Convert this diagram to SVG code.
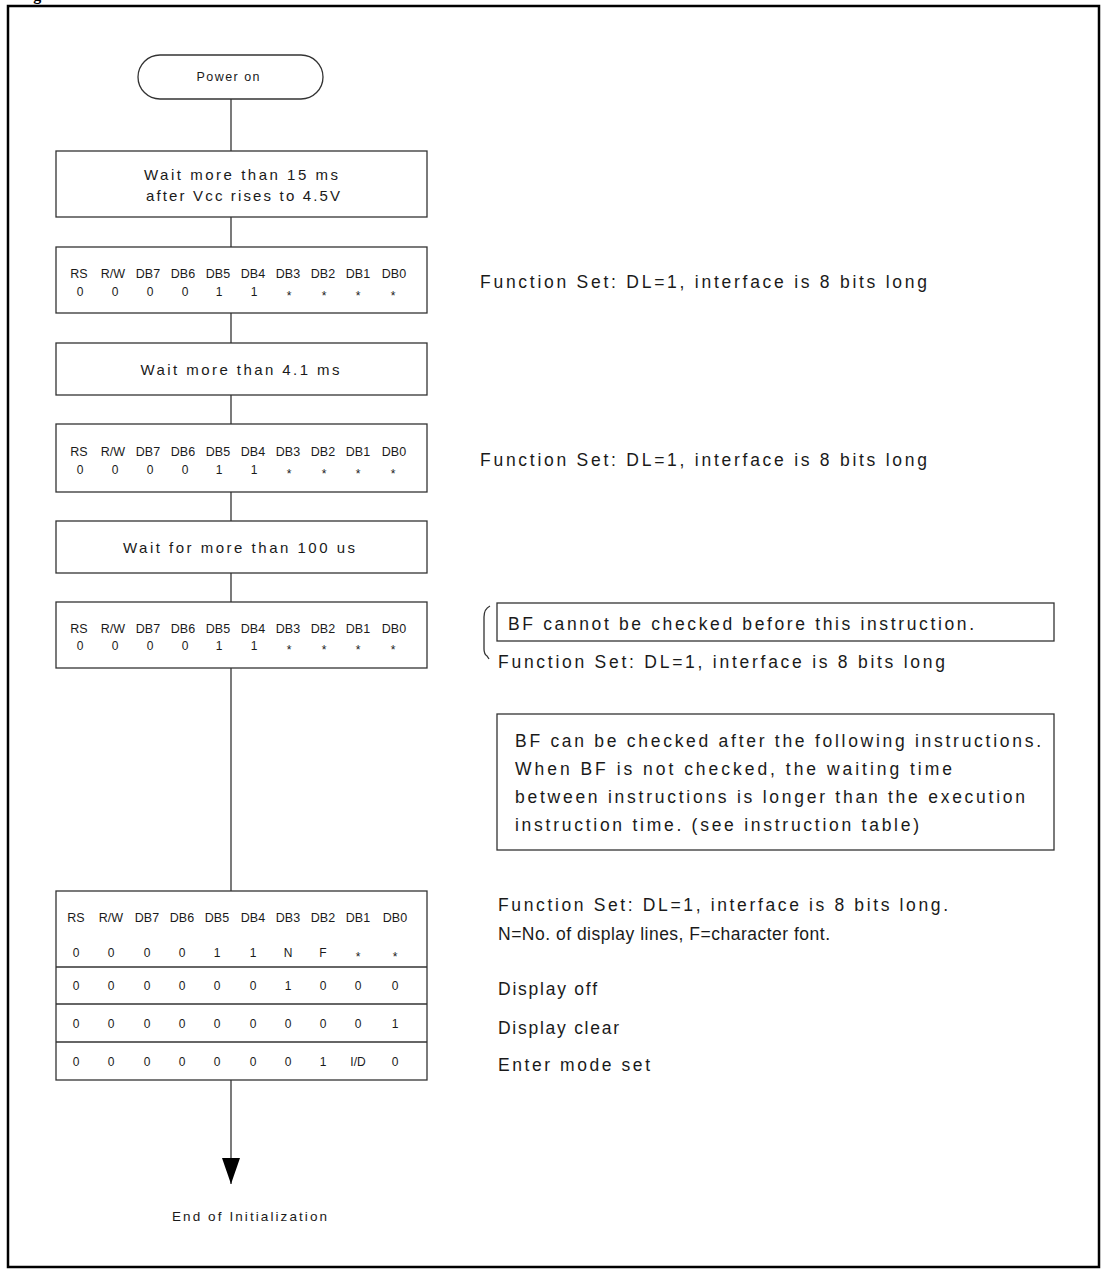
<svg xmlns="http://www.w3.org/2000/svg" width="1101" height="1269" viewBox="0 0 1101 1269">
<style>
.t{font-family:"Liberation Sans",Arial,sans-serif;fill:#1a1a1a}
.box{fill:#fff;stroke:#333;stroke-width:1.3}
.c{stroke:#333;stroke-width:1.3;fill:none}
.big{font-size:17.5px}
.mid{font-size:15px}
.m{text-anchor:middle}
.r{font-size:12.5px;text-anchor:middle}
.v{font-size:12px;text-anchor:middle}
</style>
<defs>
<marker id="arr" markerUnits="userSpaceOnUse" viewBox="0 -10 28 20" refX="26" refY="0" markerWidth="28" markerHeight="20" orient="auto">
<path d="M0,-9 L26,0 L0,9 Z" fill="#000"/>
</marker>
</defs>
<rect x="0" y="0" width="1101" height="1269" fill="#fff"/>
<text x="19" y="0" font-family="Liberation Serif,serif" font-weight="bold" font-size="16" fill="#000">Figure</text>
<rect x="8" y="6" width="1091" height="1261" fill="none" stroke="#000" stroke-width="2.5"/>

<g id="connectors">
<line class="c" x1="231" y1="99" x2="231" y2="151"/>
<line class="c" x1="231" y1="217" x2="231" y2="247"/>
<line class="c" x1="231" y1="313" x2="231" y2="343"/>
<line class="c" x1="231" y1="395" x2="231" y2="424"/>
<line class="c" x1="231" y1="492" x2="231" y2="521"/>
<line class="c" x1="231" y1="573" x2="231" y2="602"/>
<line class="c" x1="231" y1="668" x2="231" y2="891"/>
<line class="c" x1="231" y1="1080" x2="231" y2="1184" marker-end="url(#arr)"/>
</g>

<g id="power-on">
<rect class="box" x="138" y="55" width="185" height="44" rx="22" ry="22"/>
<text class="t m" x="228" y="81" font-size="12.5" textLength="63" lengthAdjust="spacing">Power on</text>
</g>

<g id="wait-15ms">
<rect class="box" x="56" y="151" width="371" height="66"/>
<text class="t mid m" x="241" y="180" textLength="194" lengthAdjust="spacing">Wait more than 15 ms</text>
<text class="t mid m" x="243" y="201" textLength="194" lengthAdjust="spacing">after Vcc rises to 4.5V</text>
</g>

<g id="func-set-1">
<rect class="box" x="56" y="247" width="371" height="66"/>
<text class="t r" x="79" y="278">RS</text><text class="t r" x="113" y="278">R/W</text><text class="t r" x="148" y="278">DB7</text><text class="t r" x="183" y="278">DB6</text><text class="t r" x="218" y="278">DB5</text><text class="t r" x="253" y="278">DB4</text><text class="t r" x="288" y="278">DB3</text><text class="t r" x="323" y="278">DB2</text><text class="t r" x="358" y="278">DB1</text><text class="t r" x="394" y="278">DB0</text>
<text class="t v" x="80" y="296">0</text><text class="t v" x="115" y="296">0</text><text class="t v" x="150" y="296">0</text><text class="t v" x="185" y="296">0</text><text class="t v" x="219" y="296">1</text><text class="t v" x="254" y="296">1</text><text class="t v" x="289" y="300">*</text><text class="t v" x="324" y="300">*</text><text class="t v" x="358" y="300">*</text><text class="t v" x="393" y="300">*</text>
</g>
<text class="t big" x="480" y="288" textLength="447" lengthAdjust="spacing">Function Set: DL=1, interface is 8 bits long</text>

<g id="wait-4ms">
<rect class="box" x="56" y="343" width="371" height="52"/>
<text class="t mid m" x="240" y="375" textLength="199" lengthAdjust="spacing">Wait more than 4.1 ms</text>
</g>

<g id="func-set-2">
<rect class="box" x="56" y="424" width="371" height="68"/>
<text class="t r" x="79" y="456">RS</text><text class="t r" x="113" y="456">R/W</text><text class="t r" x="148" y="456">DB7</text><text class="t r" x="183" y="456">DB6</text><text class="t r" x="218" y="456">DB5</text><text class="t r" x="253" y="456">DB4</text><text class="t r" x="288" y="456">DB3</text><text class="t r" x="323" y="456">DB2</text><text class="t r" x="358" y="456">DB1</text><text class="t r" x="394" y="456">DB0</text>
<text class="t v" x="80" y="474">0</text><text class="t v" x="115" y="474">0</text><text class="t v" x="150" y="474">0</text><text class="t v" x="185" y="474">0</text><text class="t v" x="219" y="474">1</text><text class="t v" x="254" y="474">1</text><text class="t v" x="289" y="478">*</text><text class="t v" x="324" y="478">*</text><text class="t v" x="358" y="478">*</text><text class="t v" x="393" y="478">*</text>
</g>
<text class="t big" x="480" y="466" textLength="447" lengthAdjust="spacing">Function Set: DL=1, interface is 8 bits long</text>

<g id="wait-100us">
<rect class="box" x="56" y="521" width="371" height="52"/>
<text class="t mid m" x="239" y="553" textLength="232" lengthAdjust="spacing">Wait for more than 100 us</text>
</g>

<g id="func-set-3">
<rect class="box" x="56" y="602" width="371" height="66"/>
<text class="t r" x="79" y="633">RS</text><text class="t r" x="113" y="633">R/W</text><text class="t r" x="148" y="633">DB7</text><text class="t r" x="183" y="633">DB6</text><text class="t r" x="218" y="633">DB5</text><text class="t r" x="253" y="633">DB4</text><text class="t r" x="288" y="633">DB3</text><text class="t r" x="323" y="633">DB2</text><text class="t r" x="358" y="633">DB1</text><text class="t r" x="394" y="633">DB0</text>
<text class="t v" x="80" y="650">0</text><text class="t v" x="115" y="650">0</text><text class="t v" x="150" y="650">0</text><text class="t v" x="185" y="650">0</text><text class="t v" x="219" y="650">1</text><text class="t v" x="254" y="650">1</text><text class="t v" x="289" y="654">*</text><text class="t v" x="324" y="654">*</text><text class="t v" x="358" y="654">*</text><text class="t v" x="393" y="654">*</text>
</g>

<g id="bf-note-1">
<path class="c" d="M490,606 Q484,609 484,617 L484,649 Q484,654 487,656 L489,659" stroke-width="1"/>
<rect class="box" x="497" y="603" width="557" height="38"/>
<text class="t big" x="508" y="630" textLength="466" lengthAdjust="spacing">BF cannot be checked before this instruction.</text>
<text class="t big" x="498" y="668" textLength="447" lengthAdjust="spacing">Function Set: DL=1, interface is 8 bits long</text>
</g>

<g id="bf-note-2">
<rect class="box" x="497" y="714" width="557" height="136"/>
<text class="t big" x="515" y="747" textLength="526" lengthAdjust="spacing">BF can be checked after the following instructions.</text>
<text class="t big" x="515" y="775" textLength="437" lengthAdjust="spacing">When BF is not checked, the waiting time</text>
<text class="t big" x="515" y="803" textLength="510" lengthAdjust="spacing">between instructions is longer than the execution</text>
<text class="t big" x="515" y="831" textLength="404" lengthAdjust="spacing">instruction time. (see instruction table)</text>
</g>

<g id="init-table">
<rect class="box" x="56" y="891" width="371" height="189"/>
<line class="c" x1="56" y1="967" x2="427" y2="967"/>
<line class="c" x1="56" y1="1004" x2="427" y2="1004"/>
<line class="c" x1="56" y1="1042" x2="427" y2="1042"/>
<text class="t r" x="76" y="922">RS</text><text class="t r" x="111" y="922">R/W</text><text class="t r" x="147" y="922">DB7</text><text class="t r" x="182" y="922">DB6</text><text class="t r" x="217" y="922">DB5</text><text class="t r" x="253" y="922">DB4</text><text class="t r" x="288" y="922">DB3</text><text class="t r" x="323" y="922">DB2</text><text class="t r" x="358" y="922">DB1</text><text class="t r" x="395" y="922">DB0</text>
<text class="t v" x="76" y="957">0</text><text class="t v" x="111" y="957">0</text><text class="t v" x="147" y="957">0</text><text class="t v" x="182" y="957">0</text><text class="t v" x="217" y="957">1</text><text class="t v" x="253" y="957">1</text><text class="t v" x="288" y="957">N</text><text class="t v" x="323" y="957">F</text><text class="t v" x="358" y="961">*</text><text class="t v" x="395" y="961">*</text>
<text class="t v" x="76" y="990">0</text><text class="t v" x="111" y="990">0</text><text class="t v" x="147" y="990">0</text><text class="t v" x="182" y="990">0</text><text class="t v" x="217" y="990">0</text><text class="t v" x="253" y="990">0</text><text class="t v" x="288" y="990">1</text><text class="t v" x="323" y="990">0</text><text class="t v" x="358" y="990">0</text><text class="t v" x="395" y="990">0</text>
<text class="t v" x="76" y="1028">0</text><text class="t v" x="111" y="1028">0</text><text class="t v" x="147" y="1028">0</text><text class="t v" x="182" y="1028">0</text><text class="t v" x="217" y="1028">0</text><text class="t v" x="253" y="1028">0</text><text class="t v" x="288" y="1028">0</text><text class="t v" x="323" y="1028">0</text><text class="t v" x="358" y="1028">0</text><text class="t v" x="395" y="1028">1</text>
<text class="t v" x="76" y="1066">0</text><text class="t v" x="111" y="1066">0</text><text class="t v" x="147" y="1066">0</text><text class="t v" x="182" y="1066">0</text><text class="t v" x="217" y="1066">0</text><text class="t v" x="253" y="1066">0</text><text class="t v" x="288" y="1066">0</text><text class="t v" x="323" y="1066">1</text><text class="t v" x="358" y="1066">I/D</text><text class="t v" x="395" y="1066">0</text>
</g>

<g id="table-labels">
<text class="t big" x="498" y="911" textLength="450" lengthAdjust="spacing">Function Set: DL=1, interface is 8 bits long.</text>
<text class="t big" x="498" y="940" textLength="332" lengthAdjust="spacing">N=No. of display lines, F=character font.</text>
<text class="t big" x="498" y="995" textLength="99" lengthAdjust="spacing">Display off</text>
<text class="t big" x="498" y="1034" textLength="121" lengthAdjust="spacing">Display clear</text>
<text class="t big" x="498" y="1071" textLength="152" lengthAdjust="spacing">Enter mode set</text>
</g>

<g id="end">
<text class="t m" x="249.5" y="1221" font-size="13.5" textLength="155" lengthAdjust="spacing">End of Initialization</text>
</g>
</svg>
